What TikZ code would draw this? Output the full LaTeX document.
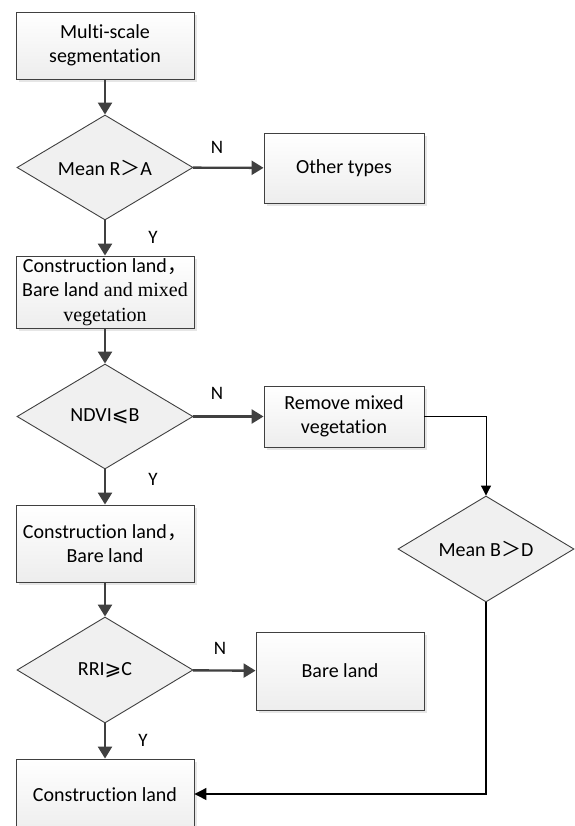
\documentclass[tikz,border=0pt]{standalone}
\usepackage{fontspec}
\setmainfont[Ligatures={NoCommon}]{Carlito}
\newfontfamily\serifpart{Liberation Serif}
\newfontfamily\cjk{Noto Sans CJK SC}
\newfontfamily\symf{DejaVu Sans}
\usetikzlibrary{shapes.geometric,arrows.meta,shadows}
\definecolor{edge}{HTML}{404040}
\tikzset{
  box/.style={draw=edge, line width=0.9pt, top color=white, bottom color=black!7,
    drop shadow={shadow xshift=3pt, shadow yshift=-3pt, fill=black!12, opacity=0.8},
    align=center, font=\fontsize{20}{24.5}\selectfont, inner sep=0pt},
  dec/.style={diamond, draw=edge, line width=0.9pt, fill=black!6, inner sep=0pt,
    aspect=1.67, font=\fontsize{20}{24}\selectfont},
  flow/.style={draw=edge, line width=2.4pt, -{Triangle[length=12pt,width=14pt]}},
  thin/.style={draw=black, line width=1pt, -{Triangle[length=10pt,width=10pt]}},
  lab/.style={font=\fontsize{19}{20}\selectfont, inner sep=0pt}
}
\begin{document}
\begin{tikzpicture}[x=1pt,y=-1pt]
\useasboundingbox[fill=white] (0,0) rectangle (574,826);
% boxes
\node[box, minimum width=178pt, minimum height=67pt] (b1) at (105,45.5) {Multi-scale\\segmentation};
\node[dec, minimum width=176pt, minimum height=105pt] (d1) at (105,167.5) {Mean R{\cjk ＞}A};
\node[box, minimum width=160pt, minimum height=70pt] (o1) at (344,168) {Other types};
\node[box, minimum width=178pt, minimum height=72pt] (b2) at (105,292) {Construction land{\cjk ，}\\Bare land{\serifpart\ and mixed}\\{\serifpart vegetation}};
\node[dec, minimum width=176pt, minimum height=105pt] (d2) at (105,416.5) {NDVI{\symf ⩽}B};
\node[box, minimum width=160pt, minimum height=61pt] (r1) at (344,416.5) {Remove mixed\\vegetation};
\node[dec, minimum width=176pt, minimum height=106pt] (d3) at (486,549) {Mean B{\cjk ＞}D};
\node[box, minimum width=178pt, minimum height=77pt] (b3) at (105,543.5) {Construction land{\cjk ，}\\Bare land};
\node[dec, minimum width=176pt, minimum height=106pt] (d4) at (105,670) {RRI{\symf ⩾}C};
\node[box, minimum width=168pt, minimum height=78pt] (bl) at (340,671) {Bare land};
\node[box, minimum width=178pt, minimum height=74pt] (b4) at (105,796) {};
\node[font=\fontsize{20}{24}\selectfont] (b4t) at (105,795) {Construction land};
% connectors
\draw[flow] (b1) -- (d1);
\draw[flow] (d1) -- (o1);
\draw[flow] (d1) -- (b2);
\draw[flow] (b2) -- (d2);
\draw[flow] (d2) -- (r1);
\draw[flow] (d2) -- (b3);
\draw[flow] (b3) -- (d4);
\draw[flow] (d4) -- (bl);
\draw[flow] (d4.south) -- (b4.north);
\draw[thin] (r1.east) -| (d3.north);
\coordinate (turn) at (486,794);
\draw[thin, line width=1.2pt, -{Triangle[length=12pt,width=12pt]}] (d3.south) -- (turn) -- (b4.east |- turn);
% labels
\node[lab] (n1) at (217,147) {N};
\node[lab] (y1) at (153,237) {Y};
\node[lab] (n2) at (217,393) {N};
\node[lab] (y2) at (153,479) {Y};
\node[lab] (n3) at (220,648) {N};
\node[lab] (y3) at (143,740) {Y};
\end{tikzpicture}
\end{document}
